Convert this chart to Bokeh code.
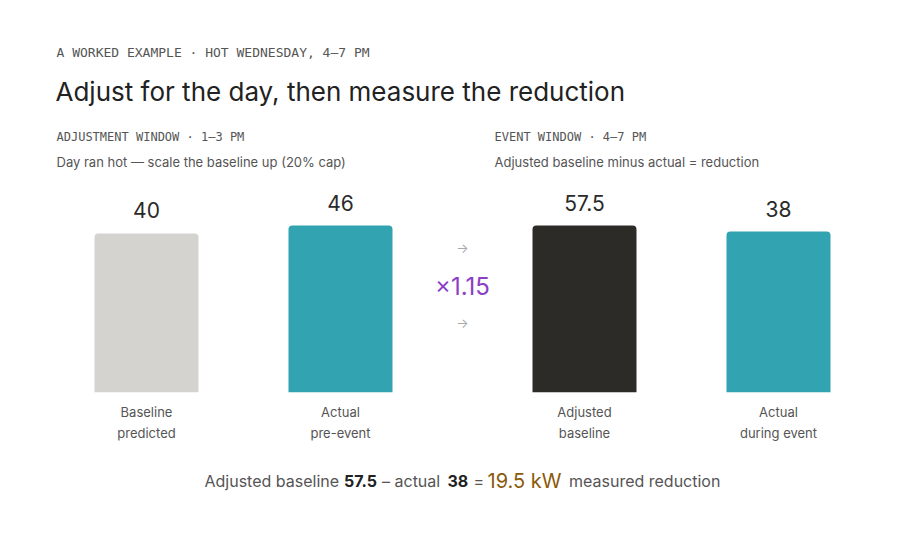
from bokeh.plotting import figure
from bokeh.models import Range1d, ColumnDataSource
from bokeh.embed import file_html
from bokeh.resources import INLINE
from bokeh.core.properties import value

# ---- data ----
kicker = "A WORKED EXAMPLE · HOT WEDNESDAY, 4–7 PM"
title = "Adjust for the day, then measure the reduction"
panel_titles = ["ADJUSTMENT WINDOW · 1–3 PM", "EVENT WINDOW · 4–7 PM"]
panel_notes = ["Day ran hot — scale the baseline up (20% cap)",
               "Adjusted baseline minus actual = reduction"]
left_labels = [("Baseline", "predicted"), ("Actual", "pre-event")]
left_values = [40, 46]
right_labels = [("Adjusted", "baseline"), ("Actual", "during event")]
right_values = [57.5, 38]
factor = 1.15
adjusted = 57.5
actual = 38
reduction = 19.5

# ---- styling / layout ----
W, H = 924, 540
SANS = "Inter"
MONO = "DejaVu Sans Mono"
left_colors = ["#D4D3CF", "#31A3B1"]
right_colors = ["#2D2B28", "#31A3B1"]
BASE_PX = 391.7          # pixel row of the bars' bottom
MAX_H = 166.7            # pixel height of the tallest bar in each panel
PPU = {"left": 1.3333, "right": 0.3077}   # pixels per kW in each panel
bar_w = 104
left_x = [146, 340]
right_x = [584, 778]

p = figure(width=W, height=H, x_range=Range1d(0, W), y_range=Range1d(H, 0),
           output_backend="svg", toolbar_location=None, min_border=0,
           x_axis_type=None, y_axis_type=None)
p.grid.visible = False
p.outline_line_color = None
p.background_fill_color = "white"
p.border_fill_color = "white"


def panel_range(vals, ppu):
    floor = max(vals) - MAX_H / ppu
    start = floor - (H - BASE_PX) / ppu
    end = floor + BASE_PX / ppu
    return Range1d(start, end), floor


rl, floor_l = panel_range(left_values, PPU["left"])
rr, floor_r = panel_range(right_values, PPU["right"])
p.extra_y_ranges = {"left": rl, "right": rr}


def txt(x, y, s, size, color, font=SANS, align="left", style="normal"):
    p.text(x=[x], y=[y], text=[s], text_font=value(font), text_font_size=size,
           text_color=color, text_align=align, text_baseline="alphabetic",
           text_font_style=style)


# header
txt(56, 52, kicker, "13px", "#555555", font=MONO)
txt(55, 91, title, "26px", "#222222")
txt(56, 136, panel_titles[0], "12px", "#555555", font=MONO)
txt(494, 136, panel_titles[1], "12px", "#555555", font=MONO)
txt(56, 161, panel_notes[0], "13px", "#555555")
txt(494, 161, panel_notes[1], "13px", "#555555")

# bars
for name, xs, vals, cols, labels, floor in [
        ("left", left_x, left_values, left_colors, left_labels, floor_l),
        ("right", right_x, right_values, right_colors, right_labels, floor_r)]:
    src = ColumnDataSource(dict(x=xs, top=vals, bottom=[floor] * len(vals),
                                color=cols, lab=[f"{v:g}" for v in vals],
                                cat1=[a for a, b in labels],
                                cat2=[b for a, b in labels]))
    p.vbar(x="x", top="top", bottom="bottom", width=bar_w, color="color",
           line_color=None, source=src, y_range_name=name,
           border_radius=(4, 4, 0, 0))
    p.text(x="x", y="top", text="lab", source=src, y_range_name=name,
           y_offset=-23, text_font=value(SANS), text_font_size="21px",
           text_color="#2a2a2a", text_align="center",
           text_baseline="alphabetic")
    for col, off in (("cat1", 19.5), ("cat2", 40.5)):
        p.text(x="x", y="bottom", text=col, source=src, y_range_name=name,
               y_offset=off, text_font=value(SANS), text_font_size="13px",
               text_color="#555555", text_align="center",
               text_baseline="alphabetic")

# middle: scaling factor
txt(462, 247, "→", "13px", "#aaaaaa", align="center")
txt(462, 322, "→", "13px", "#aaaaaa", align="center")
txt(462, 286, f"×{factor:g}", "24px", "#8B3FC6", align="center")

# bottom sentence
y_s = 480.5
txt(204, y_s, "Adjusted baseline", "16px", "#555555")
txt(343.5, y_s, f"{adjusted:g}", "16px", "#222222", style="bold")
txt(381.5, y_s, "– actual", "16px", "#555555")
txt(447, y_s, f"{actual:g}", "16px", "#222222", style="bold")
txt(473, y_s, "=", "16px", "#555555")
txt(487, y_s, f"{reduction:g} kW", "20px", "#8A5A0A")
txt(568.5, y_s, "measured reduction", "16px", "#555555")

open("out.html", "w").write(file_html(p, INLINE))
